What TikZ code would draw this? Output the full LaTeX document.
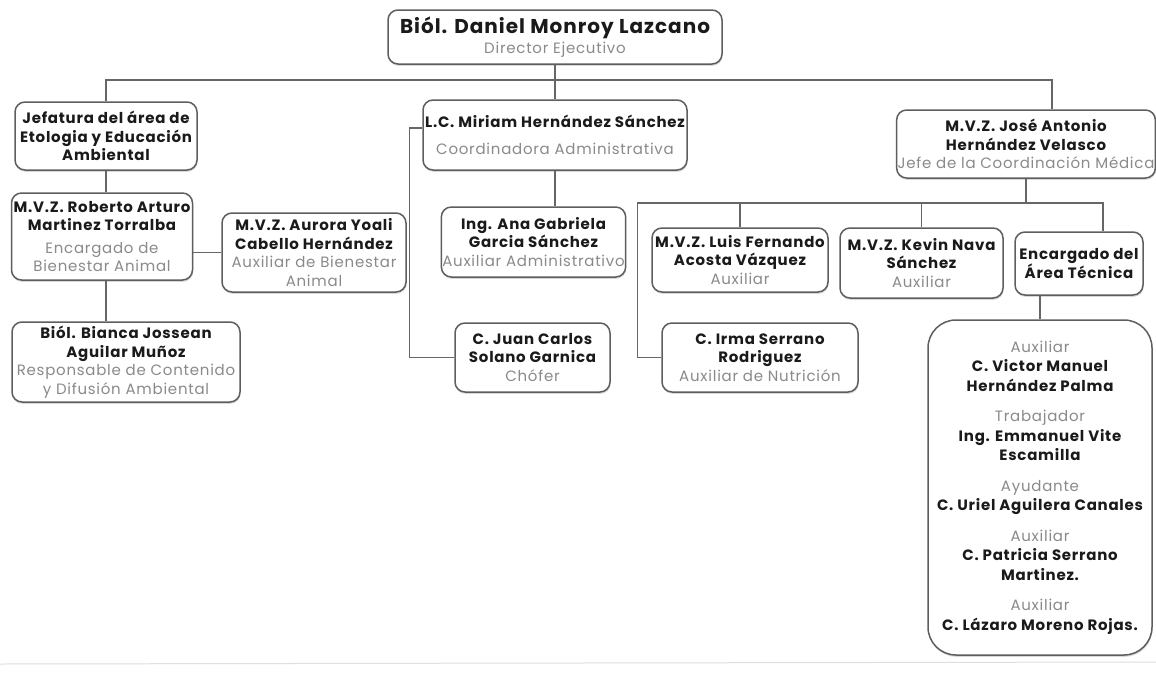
\documentclass[tikz,border=0pt]{standalone}
\usepackage{fontspec}
\setmainfont{Poppins}[LetterSpace=5]
\usetikzlibrary{shadows}
\definecolor{linegray}{HTML}{666666}
\definecolor{boxgray}{HTML}{5E5E5E}
\definecolor{cargogray}{HTML}{8A8A8A}
\definecolor{namegray}{HTML}{1A1A1A}
\newcommand{\cargo}[1]{{\mdseries\color{cargogray}#1}}

\begin{document}
\begin{tikzpicture}
        [x=1pt, y=-1pt,
        persona/.style={draw=boxgray, line width=1.5pt, rounded corners=10pt, fill=white,
            align=center, inner sep=1pt, text=namegray,
            font=\fontsize{15}{18.5}\selectfont\bfseries,
            drop shadow={shadow xshift=0.5pt, shadow yshift=-1.8pt, opacity=0.3}},
        edge/.style={linegray, line width=1.1pt}]

        \fill[white] (0,0) rectangle (1156,672);
        \useasboundingbox (0,0) rectangle (1156,672);

        % Director
        \node[persona, minimum width=334pt, minimum height=54pt] (dir) at (555,37)
            {{\fontsize{20}{24}\selectfont Biól. Daniel Monroy Lazcano}\\[2pt]\cargo{Director Ejecutivo}};

        % Left branch
        \node[persona, minimum width=182pt, minimum height=68pt] (jef) at (106,136)
            {Jefatura del área de\\Etologia y Educación\\Ambiental};
        \node[persona, minimum width=181pt, minimum height=87pt] (rob) at (102,236.5)
            {M.V.Z. Roberto Arturo\\Martinez Torralba\\[4pt]\cargo{Encargado de}\\\cargo{Bienestar Animal}};
        \node[persona, minimum width=184pt, minimum height=79pt] (aur) at (314,252.5)
            {M.V.Z. Aurora Yoali\\Cabello Hernández\\\cargo{Auxiliar de Bienestar}\\\cargo{Animal}};
        \node[persona, minimum width=228pt, minimum height=80pt] (bia) at (126,362)
            {Biól. Bianca Jossean\\Aguilar Muñoz\\\cargo{Responsable de Contenido}\\\cargo{y Difusión Ambiental}};

        % Middle branch
        \node[persona, minimum width=264pt, minimum height=70pt] (mir) at (555,135)
            {L.C. Miriam Hernández Sánchez\\[9pt]\cargo{Coordinadora Administrativa}};
        \node[persona, minimum width=177pt, minimum height=70pt] (ana) at (533.5,242)
            {Ing. Ana Gabriela\\Garcia Sánchez\\\cargo{Auxiliar Administrativo}};
        \node[persona, minimum width=155pt, minimum height=69pt] (jua) at (532.5,357.5)
            {C. Juan Carlos\\Solano Garnica\\\cargo{Chófer}};

        % Right branch
        \node[persona, minimum width=256pt, minimum height=68pt] (jos) at (1026,144)
            {M.V.Z. José Antonio\\Hernández Velasco\\\cargo{Jefe de la Coordinación Médica}};
        \node[persona, minimum width=176pt, minimum height=64pt] (lui) at (740,260)
            {M.V.Z. Luis Fernando\\Acosta Vázquez\\\cargo{Auxiliar}};
        \node[persona, minimum width=163pt, minimum height=70pt] (kev) at (921.5,263)
            {M.V.Z. Kevin Nava\\Sánchez\\\cargo{Auxiliar}};
        \node[persona, minimum width=128pt, minimum height=63pt] (enc) at (1079,263.5)
            {Encargado del\\Área Técnica};
        \node[persona, minimum width=196pt, minimum height=69pt] (irm) at (760,357.5)
            {C. Irma Serrano\\Rodriguez\\\cargo{Auxiliar de Nutrición}};
        \node[persona, rounded corners=28pt, minimum width=224pt, minimum height=335pt,
            font=\fontsize{15}{19.5}\selectfont\bfseries] (tec) at (1040,487.5)
            {\cargo{Auxiliar}\\C. Victor Manuel\\Hernández Palma\\[11pt]
             \cargo{Trabajador}\\Ing. Emmanuel Vite\\Escamilla\\[11pt]
             \cargo{Ayudante}\\C. Uriel Aguilera Canales\\[11pt]
             \cargo{Auxiliar}\\C. Patricia Serrano\\Martinez.\\[11pt]
             \cargo{Auxiliar}\\C. Lázaro Moreno Rojas.};

        % Connectors
        \coordinate (bus) at (555,80);
        \coordinate (medbus) at (1027,203);

        \draw[edge] (dir) -- (mir);
        \draw[edge] (jef.north) |- (bus) -| ([xshift=26pt]jos.north);

        \draw[edge] (jef.south) -- (jef.south |- rob.north);
        \draw[edge] (rob.east |- aur.west) -- (aur.west);
        \draw[edge] (jef.south |- rob.south) -- (jef.south |- bia.north);

        \draw[edge] (mir) -- (mir |- ana.north);
        \draw[edge] ([yshift=7pt]mir.west) -- ++(-13pt,0) |- (jua.west);

        \draw[edge] (jos) -- (jos |- medbus);
        \draw[edge] (irm.west) -- ++(-24pt,0) |- (lui.north |- medbus) -| ([xshift=24pt]enc.north);
        \draw[edge] (lui.north) -- (lui.north |- medbus);
        \draw[edge] (kev.north) -- (kev.north |- medbus);
        \draw[edge] (tec.north) -- (tec.north |- enc.south);

        % page edge
        \draw[gray!25, line width=1pt] (0,664) -- (1156,662);
\end{tikzpicture}
\end{document}
